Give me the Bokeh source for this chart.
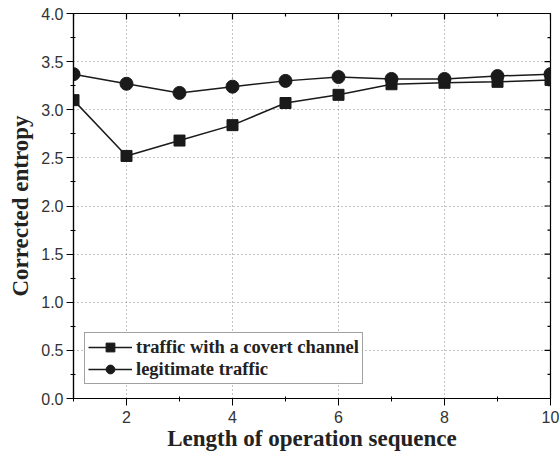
import math
from bokeh.plotting import figure
from bokeh.models import Legend, LegendItem, Range1d, FixedTicker, CustomJSTickFormatter
from bokeh.embed import file_html
from bokeh.resources import INLINE

lengths = [1, 2, 3, 4, 5, 6, 7, 8, 9, 10]
covert = [3.10, 2.52, 2.68, 2.84, 3.07, 3.155, 3.265, 3.28, 3.29, 3.31]
legit = [3.37, 3.27, 3.175, 3.24, 3.30, 3.34, 3.32, 3.32, 3.35, 3.37]
x_ticks = [2, 4, 6, 8, 10]
x_minor = [1, 3, 5, 7, 9]
y_ticks = [0.0, 0.5, 1.0, 1.5, 2.0, 2.5, 3.0, 3.5, 4.0]
y_minor = [0.25, 0.75, 1.25, 1.75, 2.25, 2.75, 3.25, 3.75]
x_min, x_max = 1, 10
y_min, y_max = 0.0, 4.0

p = figure(width=559, height=454, output_backend="svg", toolbar_location=None,
           x_range=Range1d(x_min, x_max), y_range=Range1d(y_min, y_max),
           min_border_left=73, min_border_right=9, min_border_top=13, min_border_bottom=56)
p.background_fill_color = "white"
p.border_fill_color = "white"
p.outline_line_color = "black"
p.outline_line_width = 1.2

tick_font = "Liberation Sans"
lab_font = "Liberation Serif"

p.xaxis.ticker = FixedTicker(ticks=x_ticks, minor_ticks=x_minor)
p.yaxis.ticker = FixedTicker(ticks=y_ticks, minor_ticks=y_minor)
p.yaxis.formatter = CustomJSTickFormatter(code="return tick.toFixed(1);")

for ax in (p.xaxis[0], p.yaxis[0]):
    ax.axis_line_color = "black"
    ax.axis_line_width = 1.2
    ax.major_tick_line_color = "black"
    ax.minor_tick_line_color = "black"
    ax.major_tick_out = 7
    ax.major_tick_in = 0
    ax.minor_tick_out = 3
    ax.minor_tick_in = 2
    ax.major_label_text_font = tick_font
    ax.major_label_text_font_size = "16px"
    ax.major_label_text_color = "#333333"
    ax.axis_label_text_font = lab_font
    ax.axis_label_text_font_style = "bold"
    ax.axis_label_text_font_size = "23px"
    ax.axis_label_text_color = "#222222"

p.xaxis.major_label_standoff = 5
p.yaxis.major_label_standoff = 3
p.xaxis.axis_label = "Length of operation sequence"
p.yaxis.axis_label = "Corrected entropy"
p.xaxis.axis_label_standoff = 0
p.yaxis.axis_label_standoff = 5

p.xgrid.ticker = FixedTicker(ticks=x_ticks)
p.ygrid.ticker = FixedTicker(ticks=y_ticks)
for g in (p.xgrid[0], p.ygrid[0]):
    g.grid_line_color = "#888888"
    g.grid_line_dash = "1 3"
    g.grid_line_width = 1

# mirrored inward ticks on the right and top edges (clipped to the frame)
p.scatter([x_max] * len(y_ticks), y_ticks, marker="dash", size=12, line_color="black", line_width=1.2)
p.scatter([x_max] * len(y_minor), y_minor, marker="dash", size=6, line_color="black", line_width=1.2)
p.scatter(x_ticks, [y_max] * len(x_ticks), marker="dash", angle=math.pi / 2, size=12, line_color="black", line_width=1.2)
p.scatter(x_minor, [y_max] * len(x_minor), marker="dash", angle=math.pi / 2, size=6, line_color="black", line_width=1.2)

l1 = p.line(lengths, covert, line_color="#1a1a1a", line_width=1.5)
s1 = p.scatter(lengths, covert, marker="square", size=11, fill_color="#1a1a1a", line_color="#1a1a1a")
l2 = p.line(lengths, legit, line_color="#1a1a1a", line_width=1.5)
s2 = p.scatter(lengths, legit, marker="circle", size=13, fill_color="#1a1a1a", line_color="#1a1a1a")

legend = Legend(items=[LegendItem(label="traffic with a covert channel", renderers=[l1, s1]),
                       LegendItem(label="legitimate traffic", renderers=[l2, s2])],
                location=(11, 14))
legend.label_text_font = lab_font
legend.label_text_font_style = "bold"
legend.label_text_font_size = "18.5px"
legend.label_text_color = "#222222"
legend.border_line_color = "#444444"
legend.border_line_width = 1
legend.padding = 3
legend.spacing = 0
legend.margin = 0
legend.glyph_width = 44
legend.label_standoff = 4
legend.label_height = 22
legend.glyph_height = 22
p.add_layout(legend, "center")

open("out.html", "w").write(file_html(p, INLINE))
